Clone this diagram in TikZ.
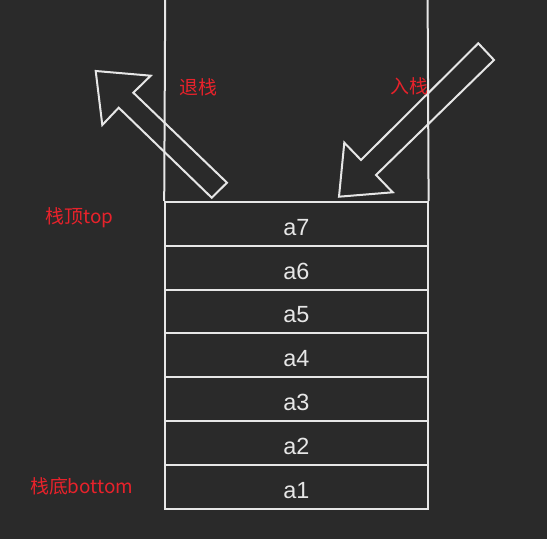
\documentclass[tikz,border=0pt]{standalone}
\usepackage{fontspec}
\setmainfont{Liberation Sans}
\newfontfamily\cjkfont{Noto Sans CJK SC}
\definecolor{bgdark}{HTML}{2A2A2A}
\definecolor{lineclr}{HTML}{E6E6E6}
\definecolor{redtxt}{HTML}{E8222B}
\tikzset{
  cell/.style={draw=lineclr,line width=2bp,minimum width=262.4bp,minimum height=43.8bp,
    inner sep=0pt,text height=22.8bp,text depth=0pt,text=lineclr,
    font=\fontsize{23.5}{27}\selectfont},
  redlabel/.style={text=redtxt,inner sep=0pt,font=\cjkfont\fontsize{19}{23}\selectfont},
  blockarrow/.style={draw=lineclr,line width=2bp,line join=miter}
}
\begin{document}
\begin{tikzpicture}[x=1bp,y=-1bp]

\fill[bgdark] (0,0) rectangle (547,539);
\useasboundingbox (0,0) rectangle (547,539);

\foreach \k in {1,...,7}
  \node[cell]
  (a\k)
  at (296.4,{202+(7-\k)*43.8+21.9})
  {a\k};

\coordinate (topleft) at (165.2,0);
\coordinate (topright) at (427.6,0);

\draw[lineclr,line width=2bp]
(a7.north west)
--
(topleft);

\draw[lineclr,line width=2bp]
(a7.north east)
--
(topright);

% out of the stack
\draw[blockarrow]
(95.7,71) -- (150.7,75.7) -- (133.3,92.7) -- (227,182.7)
-- (211.7,197.7) -- (118.7,107.7) -- (102.3,125) -- cycle;

% into the stack
\draw[blockarrow]
(478.3,43.3) -- (494,60) -- (376,175) -- (392.7,192.3)
-- (339,196.7) -- (344.3,142.7) -- (361,160) -- cycle;

\node[redlabel]
(pop)
at (198.3,87.3)
{退栈};

\node[redlabel]
(push)
at (409,86)
{入栈};

\node[redlabel]
(stacktop)
at (79.7,217.3)
{栈顶top};

\node[redlabel]
(stackbottom)
at (81.7,486.7)
{栈底bottom};

\end{tikzpicture}
\end{document}
